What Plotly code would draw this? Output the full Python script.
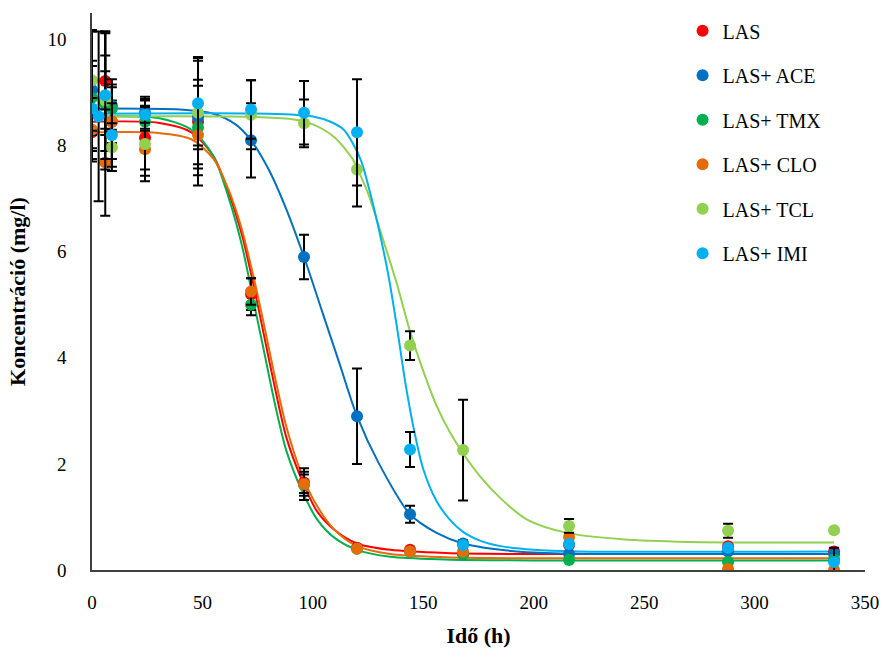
import plotly.graph_objects as go

# ---- measured points (time in h, concentration in mg/l, standard deviation) ----
las_t = [0, 6, 9, 24, 48, 72, 96, 120, 144, 168, 216, 288, 336]
las_v = [8.25, 9.22, 8.45, 8.15, 8.45, 5.2, 1.65, 0.42, 0.38, 0.3, 0.47, 0.45, 0.35]
las_e = [0.5, 0.9, 0.4, 0.6, 1.2, 0.3, 0.2, 0.03, 0.03, 0.03, 0.03, 0.03, 0.03]

ace_t = [0, 6, 9, 24, 48, 72, 96, 120, 144, 168, 216, 288, 336]
ace_v = [9.05, 8.8, 8.75, 8.62, 8.53, 8.1, 5.9, 2.9, 1.05, 0.5, 0.3, 0.35, 0.3]
ace_e = [1.1, 0.9, 0.5, 0.3, 0.6, 0.7, 0.42, 0.9, 0.16, 0.06, 0.03, 0.03, 0.03]

tmx_t = [0, 6, 9, 24, 48, 72, 96, 120, 144, 168, 216, 288, 336]
tmx_v = [8.9, 8.8, 8.7, 8.45, 8.34, 5.0, 1.6, 0.4, 0.35, 0.3, 0.19, 0.15, 0.2]
tmx_e = [0.7, 0.6, 0.4, 0.4, 0.9, 0.2, 0.2, 0.03, 0.03, 0.03, 0.03, 0.03, 0.03]

clo_t = [0, 6, 9, 24, 48, 72, 96, 120, 144, 168, 216, 288, 336]
clo_v = [8.3, 7.68, 8.45, 7.93, 8.2, 5.25, 1.62, 0.4, 0.35, 0.35, 0.62, 0.02, 0.0]
clo_e = [0.6, 1.0, 0.7, 0.5, 0.55, 0.25, 0.3, 0.03, 0.03, 0.03, 0.06, 0.03, 0.03]

tcl_t = [0, 6, 9, 24, 48, 72, 96, 120, 144, 168, 216, 288, 336]
tcl_v = [9.23, 8.85, 7.97, 8.03, 8.62, 8.58, 8.42, 7.55, 4.23, 2.26, 0.83, 0.74, 0.75]
tcl_e = [0.95, 1.3, 0.45, 0.7, 1.05, 0.65, 0.45, 0.7, 0.27, 0.95, 0.13, 0.13, 0.03]

imi_t = [0, 3, 6, 9, 24, 48, 72, 96, 120, 144, 168, 216, 288, 336]
imi_v = [8.7, 8.55, 8.95, 8.2, 8.58, 8.8, 8.68, 8.62, 8.25, 2.27, 0.47, 0.49, 0.42, 0.15]
imi_e = [0.8, 1.6, 1.2, 0.6, 0.3, 0.8, 0.55, 0.6, 1.0, 0.33, 0.05, 0.03, 0.03, 0.27]

# ---- fitted decay curves (sampled) ----
fit_t_fast = [0, 30, 45, 55, 62, 68, 73, 78, 83, 88, 95, 102, 110, 120, 135, 160, 200, 336]
las_fit = [8.45, 8.43, 8.25, 7.8, 7.1, 6.3, 5.4, 4.4, 3.4, 2.5, 1.7, 1.1, 0.75, 0.5, 0.38, 0.32, 0.3, 0.3]
tmx_fit = [8.55, 8.52, 8.3, 7.8, 7.0, 6.1, 5.1, 4.1, 3.1, 2.25, 1.5, 0.95, 0.6, 0.38, 0.25, 0.2, 0.18, 0.18]
clo_fit = [8.25, 8.24, 8.12, 7.75, 7.15, 6.4, 5.55, 4.6, 3.6, 2.7, 1.8, 1.2, 0.75, 0.45, 0.3, 0.24, 0.22, 0.22]

ace_fit_t = [0, 40, 55, 65, 72, 80, 88, 96, 104, 112, 120, 130, 144, 156, 168, 185, 200, 230, 336]
ace_fit = [8.7, 8.68, 8.6, 8.4, 8.1, 7.55, 6.8, 5.9, 4.9, 3.9, 2.9, 2.0, 1.05, 0.7, 0.5, 0.38, 0.33, 0.3, 0.3]

tcl_fit_t = [0, 60, 90, 100, 110, 118, 120, 125, 132, 138, 144, 150, 156, 162, 168, 176, 185, 197, 215, 240, 270, 336]
tcl_fit = [8.55, 8.55, 8.5, 8.4, 8.15, 7.75, 7.58, 7.1, 6.2, 5.4, 4.5, 3.75, 3.1, 2.6, 2.2, 1.75, 1.35, 0.95, 0.7, 0.58, 0.53, 0.52]

imi_fit_t = [0, 80, 100, 108, 114, 118, 122, 126, 130, 134, 138, 142, 146, 150, 156, 162, 168, 176, 185, 200, 220, 336]
imi_fit = [8.6, 8.6, 8.55, 8.45, 8.3, 8.05, 7.7, 7.1, 6.4, 5.6, 4.6, 3.5, 2.6, 1.9, 1.3, 0.95, 0.72, 0.55, 0.45, 0.38, 0.35, 0.35]

names = ["LAS", "LAS+ ACE", "LAS+ TMX", "LAS+ CLO", "LAS+ TCL", "LAS+ IMI"]
colors = ["#FF0000", "#0070C0", "#00B050", "#E46C0A", "#92D050", "#00B0F0"]

points = [
    (las_t, las_v, las_e),
    (ace_t, ace_v, ace_e),
    (tmx_t, tmx_v, tmx_e),
    (clo_t, clo_v, clo_e),
    (tcl_t, tcl_v, tcl_e),
    (imi_t, imi_v, imi_e),
]
fits = [
    (fit_t_fast, las_fit),
    (ace_fit_t, ace_fit),
    (fit_t_fast, tmx_fit),
    (fit_t_fast, clo_fit),
    (tcl_fit_t, tcl_fit),
    (imi_fit_t, imi_fit),
]

serif = "Liberation Serif"

fig = go.Figure()

for (ft, fv), c in zip(fits, colors):
    fig.add_trace(go.Scatter(
        x=ft, y=fv, mode="lines", line=dict(color=c, width=2, shape="spline", smoothing=0.8),
        showlegend=False, hoverinfo="skip",
    ))

for i, ((t, v, e), name, c) in enumerate(zip(points, names, colors)):
    fig.add_trace(go.Scatter(
        x=t, y=v, mode="markers", name=name, legendgroup=f"g{i}",
        marker=dict(color=c, size=12, line=dict(width=0)),
        error_y=dict(type="data", array=e, visible=True, color="black", thickness=2, width=5),
    ))

fig.update_layout(
    width=890, height=660,
    margin=dict(l=92, r=21, t=11, b=90),
    paper_bgcolor="white", plot_bgcolor="white",
    font=dict(family=serif, size=19, color="black"),
    showlegend=True,
    legend=dict(
        x=0.764, y=1.003, xanchor="left", yanchor="top",
        font=dict(family=serif, size=20, color="black"),
        tracegroupgap=15.5, itemwidth=30, bgcolor="rgba(0,0,0,0)",
    ),
    xaxis=dict(
        range=[0, 350], tickvals=[0, 50, 100, 150, 200, 250, 300, 350],
        tickfont=dict(family=serif, size=19, color="black"),
        showgrid=False, zeroline=False, showline=True, linecolor="#404040", linewidth=1.5,
        ticks="", ticklabelstandoff=14,
        title=dict(text="<b>Idő (h)</b>", font=dict(family=serif, size=22), standoff=16),
    ),
    yaxis=dict(
        range=[0, 10.5], tickvals=[0, 2, 4, 6, 8, 10],
        tickfont=dict(family=serif, size=19, color="black"),
        showgrid=False, zeroline=False, showline=True, linecolor="#404040", linewidth=1.5,
        ticks="", ticklabelstandoff=20,
        title=dict(text="<b>Koncentráció (mg/l)</b>", font=dict(family=serif, size=22), standoff=16),
    ),
)

fig.write_html("out.html")
